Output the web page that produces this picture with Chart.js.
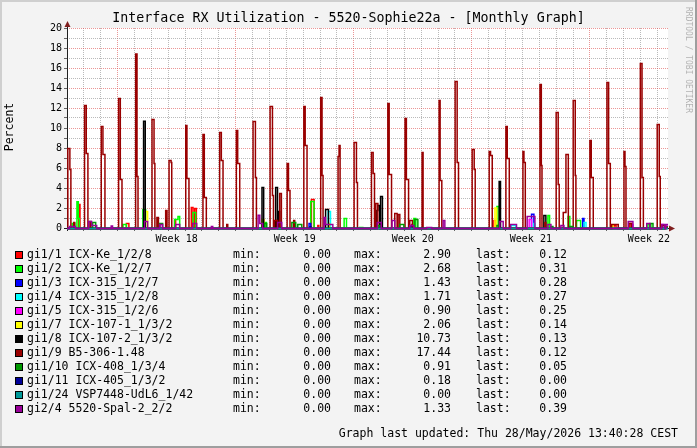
<!DOCTYPE html>
<html>
<head>
<meta charset="utf-8">
<script src="https://cdn.jsdelivr.net/npm/chart.js@4.4.0/dist/chart.umd.min.js"></script>
<style>
    html, body { margin: 0; padding: 0; background: #f3f3f3; }
</style>
</head>
<body>
<canvas id="rxChart" width="697" height="448"></canvas>
<script>
// time axis is in days from the left edge of the graph
let xMax = 35.63;
let weekDays = [6.5, 13.5, 20.5, 27.5, 34.5];
let weekLabels = ["Week 18", "Week 19", "Week 20", "Week 21", "Week 22"];
let majorDays = [3, 10, 17, 24, 31];
let yMax = 20;

let names = [
    "gi1/1 ICX-Ke_1/2/8", "gi1/2 ICX-Ke_1/2/7", "gi1/3 ICX-315_1/2/7", "gi1/4 ICX-315_1/2/8",
    "gi1/5 ICX-315_1/2/6", "gi1/7 ICX-107-1_1/3/2", "gi1/8 ICX-107-2_1/3/2", "gi1/9 B5-306-1.48",
    "gi1/10 ICX-408_1/3/4", "gi1/11 ICX-405_1/3/2", "gi1/24 VSP7448-UdL6_1/42", "gi2/4 5520-Spal-2_2/2"
];
let minVals = [0, 0, 0, 0, 0, 0, 0, 0, 0, 0, 0, 0];
let maxVals = [2.90, 2.68, 1.43, 1.71, 0.90, 2.06, 10.73, 17.44, 0.91, 0.18, 0.00, 1.33];
let lastVals = [0.12, 0.31, 0.28, 0.27, 0.25, 0.14, 0.13, 0.12, 0.05, 0.00, 0.00, 0.39];

// [day, value] : value holds from that day until the next point
let gi1_1 = [[0,0],[0.69,2.4],[0.77,0],[3.52,0.5],[3.67,0],[6.38,0.8],[6.44,0],[7.37,2.1],[7.47,0],
    [7.57,2.0],[7.67,0],[12.41,0.8],[12.47,0],[14.49,2.9],[14.65,0],[14.87,0.3],[14.93,0],[18.25,1.6],
    [18.31,0],[20.44,0.4],[20.56,0],[25.31,0.8],[25.43,0],[32.43,0.3],[32.55,0],[33.37,0.5],[33.49,0],
    [35.45,0.12],[35.63,0.12]];
let gi1_2 = [[0,0],[0.31,0.5],[0.45,0],[0.59,2.68],[0.67,1.0],[0.73,0],[3.32,0.4],[3.52,0],[4.50,1.9],
    [4.66,0],[6.38,0.9],[6.58,1.2],[6.68,0],[7.47,1.6],[7.63,0],[11.72,0.6],[11.82,0],[14.45,2.7],[14.65,0],
    [16.43,1.0],[16.57,0],[17.36,0.1],[17.54,0],[20.56,1.0],[20.68,0],[25.49,2.2],[25.62,0],[28.51,1.3],
    [28.61,0],[29.71,1.2],[29.81,0],[30.21,0.8],[30.45,0],[34.44,0.4],[34.62,0],[35.40,0.31],[35.63,0.31]];
let gi1_3 = [[0,0],[14.35,0.5],[14.45,0],[20.39,0.3],[20.44,0],[27.54,1.43],[27.68,0],[30.57,1.0],
    [30.65,0],[35.40,0.28],[35.63,0.28]];
let gi1_4 = [[0,0],[15.48,1.71],[15.62,0],[26.32,0.3],[26.61,0],[27.68,0.5],[27.74,0],[30.65,0.6],
    [30.77,0],[35.40,0.27],[35.63,0.27]];
let gi1_5 = [[0,0],[5.49,0.3],[5.55,0],[27.40,0.9],[27.54,0],[33.49,0.4],[33.55,0],[35.27,0.4],
    [35.33,0],[35.45,0.25],[35.63,0.25]];
let gi1_7 = [[0,0],[4.66,1.7],[4.78,0],[11.56,0.9],[11.68,0],[15.50,0.5],[15.56,0],[25.37,2.06],
    [25.47,0],[32.31,0.3],[32.37,0],[35.45,0.14],[35.63,0.14]];
let gi1_8 = [[0,0],[4.54,10.73],[4.64,0],[11.56,4.1],[11.66,0],[12.37,4.1],[12.48,0],[12.55,1.7],
    [12.61,0],[15.33,1.9],[15.50,0],[18.37,1.8],[18.43,2.3],[18.54,0],[18.59,3.2],[18.70,0],[25.62,4.7],
    [25.70,0],[28.27,1.3],[28.39,0],[35.45,0.13],[35.63,0.13]];
let gi1_9 = [[0,0],
    [0.05,8.0],[0.17,5.9],[0.23,0],[0.40,0.6],[0.46,0],
    [1.04,12.3],[1.14,7.5],[1.24,0],[1.36,0.7],[1.42,0],
    [2.03,10.2],[2.13,7.4],[2.25,0],
    [3.06,13.0],[3.16,4.9],[3.26,0],
    [4.07,17.44],[4.15,5.2],[4.21,0],
    [5.04,10.9],[5.16,6.5],[5.21,0],[5.33,1.1],[5.42,0],[5.85,1.8],[5.93,0],
    [6.05,6.8],[6.17,6.6],[6.21,0],
    [7.04,10.3],[7.11,5.0],[7.23,0],
    [8.06,9.4],[8.14,3.1],[8.26,0],
    [9.05,9.6],[9.15,6.8],[9.25,0],[9.47,0.4],[9.53,0],
    [10.04,9.8],[10.12,6.5],[10.24,0],
    [11.03,10.7],[11.17,5.1],[11.23,0],
    [12.04,12.2],[12.18,3.3],[12.24,0],[12.31,0.8],[12.49,0],[12.61,3.5],[12.71,0],
    [13.05,6.5],[13.13,3.8],[13.22,0],[13.44,0.8],[13.50,0],
    [14.04,12.2],[14.12,8.3],[14.23,0],
    [15.04,13.1],[15.12,5.3],[15.18,0],
    [16.07,7.2],[16.13,8.3],[16.19,0],
    [17.02,8.6],[17.16,4.6],[17.22,0],
    [18.05,7.6],[18.15,5.5],[18.23,0],[18.31,2.5],[18.43,0],
    [19.02,12.5],[19.10,5.4],[19.24,0],[19.43,1.5],[19.57,0],[19.63,1.4],[19.73,0],
    [20.04,11.0],[20.12,4.9],[20.25,0],[20.32,0.8],[20.48,0],
    [21.05,7.6],[21.11,0],
    [22.06,12.8],[22.12,4.8],[22.22,0],
    [23.01,14.7],[23.13,6.6],[23.21,0],
    [24.02,7.9],[24.14,5.9],[24.20,0],
    [25.03,7.7],[25.11,7.3],[25.21,0],
    [26.02,10.2],[26.10,7.0],[26.22,0],
    [27.03,7.7],[27.09,6.6],[27.17,0],
    [28.04,14.4],[28.12,6.3],[28.16,0],[28.33,0.6],[28.39,0],
    [29.00,11.6],[29.12,4.4],[29.18,0],[29.42,1.6],[29.58,7.4],[29.72,0],
    [30.01,12.8],[30.13,5.3],[30.17,0],
    [31.00,8.8],[31.08,5.1],[31.20,0],
    [32.01,14.6],[32.11,6.5],[32.21,0],[32.29,0.4],[32.68,0],
    [33.02,7.7],[33.08,6.2],[33.14,0],[33.30,0.5],[33.45,0],
    [33.99,16.5],[34.09,5.1],[34.17,0],
    [34.99,10.4],[35.11,5.2],[35.17,0],[35.27,0.3],[35.45,0],
    [35.52,0.12],[35.63,0.12]];
let gi1_10 = [[0,0],[1.52,0.6],[1.70,0],[5.49,0.5],[5.67,0],[11.72,0.5],[11.84,0],[13.33,0.6],[13.56,0],
    [13.68,0.4],[13.92,0],[18.43,0.3],[18.55,0],[19.73,0.4],[19.97,0],[20.62,0.91],[20.80,0],[25.49,0.3],
    [25.62,0],[28.69,0.2],[28.81,0],[29.81,0.2],[29.99,0],[34.56,0.5],[34.74,0],[35.50,0.05],[35.63,0.05]];
let gi1_11 = [[0,0],[14.40,0.18],[14.46,0],[35.63,0]];
let gi1_24 = [[0,0],[35.63,0]];
let gi2_4 = [[0,0],[0.15,0.2],[0.50,0],[1.28,0.7],[1.46,0.3],[1.76,0],[2.62,0.25],[2.70,0],[4.60,0.7],
    [4.78,0],[5.49,0.4],[5.67,0],[6.44,0.4],[6.68,0],[7.45,0.5],[7.69,0],[8.56,0.2],[8.64,0],[11.33,1.33],
    [11.43,0.5],[11.60,0],[12.49,0.6],[12.73,0],[15.24,1.1],[15.32,0.4],[15.76,0],[18.39,0.6],[18.63,0],
    [19.27,0.8],[19.43,0],[20.32,0.3],[20.56,0],[21.33,0.1],[21.62,0],[22.30,0.8],[22.40,0],[25.66,0.7],
    [25.86,0],[26.30,0.4],[26.65,0],[27.28,1.2],[27.74,0],[28.51,0.4],[28.69,0],[29.28,0.3],[29.46,0],
    [33.27,0.7],[33.55,0],[34.37,0.5],[34.56,0],[35.26,0.4],[35.45,0],[35.50,0.39],[35.63,0.39]];

let series = [gi1_1, gi1_2, gi1_3, gi1_4, gi1_5, gi1_7, gi1_8, gi1_9, gi1_10, gi1_11, gi1_24, gi2_4];
let colors = ["#FF0000", "#00FF00", "#0000FF", "#00FFFF", "#FF00FF", "#FFFF00",
    "#000000", "#990000", "#009900", "#000099", "#009999", "#990099"];

let MONO = '"DejaVu Sans Mono", monospace';
let MINOR = "rgba(140,140,140,0.6)";
let MAJOR = "rgba(222,80,80,0.6)";

function gridX(c) {
    let v = c.tick ? c.tick.value : 0;
    if (weekDays.includes(v)) return "rgba(0,0,0,0)";
    return majorDays.includes(v) ? MAJOR : MINOR;
}

function gridY(c) {
    let v = c.tick ? c.tick.value : 0;
    return v % 2 === 0 ? MAJOR : MINOR;
}

// backgrounds, axes, arrows and all the rrdtool style text
let rrdLook = {
    id: "rrdLook",
    beforeDraw(chart) {
        let ctx = chart.ctx;
        let a = chart.chartArea;
        ctx.save();
        ctx.fillStyle = "#F3F3F3";
        ctx.fillRect(0, 0, chart.width, chart.height);
        ctx.fillStyle = "#FFFFFF";
        ctx.fillRect(a.left, a.top, a.right - a.left, a.bottom - a.top);
        ctx.restore();
    },
    beforeDatasetsDraw(chart) {
        let ctx = chart.ctx;
        let a = chart.chartArea;
        ctx.save();
        ctx.strokeStyle = "#1F1F1F";
        ctx.lineWidth = 1;
        ctx.beginPath();
        ctx.moveTo(a.left + 0.5, a.bottom + 3);
        ctx.lineTo(a.left + 0.5, a.top - 5);
        ctx.moveTo(a.left - 3, a.bottom + 0.5);
        ctx.lineTo(a.right + 4, a.bottom + 0.5);
        ctx.stroke();
        ctx.restore();
        // half pixel shift so the flat parts of the steps land on whole rows
        ctx.save();
        ctx.translate(0, 0.5);
    },
    afterDatasetsDraw(chart) {
        chart.ctx.restore();
    },
    afterDraw(chart) {
        let ctx = chart.ctx;
        let a = chart.chartArea;
        ctx.save();

        // arrows
        ctx.fillStyle = "#801F1F";
        ctx.beginPath();
        ctx.moveTo(a.left - 2.5, a.top - 1);
        ctx.lineTo(a.left + 3.5, a.top - 1);
        ctx.lineTo(a.left + 0.5, a.top - 7);
        ctx.closePath();
        ctx.fill();
        ctx.beginPath();
        ctx.moveTo(a.right + 1, a.bottom - 2.5);
        ctx.lineTo(a.right + 1, a.bottom + 3.5);
        ctx.lineTo(a.right + 7, a.bottom + 0.5);
        ctx.closePath();
        ctx.fill();

        // title
        ctx.fillStyle = "#000";
        ctx.textBaseline = "middle";
        ctx.textAlign = "center";
        ctx.font = "13.3px " + MONO;
        ctx.fillText("Interface RX Utilization - 5520-Sophie22a - [Monthly Graph]", 348.5, 19);

        // unit label
        ctx.save();
        ctx.translate(10, 127);
        ctx.rotate(-Math.PI / 2);
        ctx.font = "11.5px " + MONO;
        ctx.fillText("Percent", 0, 0);
        ctx.restore();

        // watermark
        ctx.save();
        ctx.translate(688, 60);
        ctx.rotate(Math.PI / 2);
        ctx.font = "8px " + MONO;
        ctx.fillStyle = "rgba(0,0,0,0.28)";
        ctx.fillText("RRDTOOL / TOBI OETIKER", 0, 0);
        ctx.restore();

        // legend table
        ctx.font = "11.5px " + MONO;
        names.forEach((n, i) => {
            let y = 255 + i * 14;
            ctx.fillStyle = colors[i];
            ctx.fillRect(15, y - 4, 8, 8);
            ctx.strokeStyle = "#000";
            ctx.lineWidth = 1;
            ctx.strokeRect(15.5, y - 3.5, 7, 7);

            ctx.fillStyle = "#000";
            ctx.textAlign = "left";
            ctx.fillText(n, 27, y);
            ctx.fillText("min:", 233, y);
            ctx.fillText("max:", 354, y);
            ctx.fillText("last:", 476, y);
            ctx.textAlign = "right";
            ctx.fillText(minVals[i].toFixed(2), 331, y);
            ctx.fillText(maxVals[i].toFixed(2), 451, y);
            ctx.fillText(lastVals[i].toFixed(2), 567, y);
        });

        ctx.textAlign = "right";
        ctx.fillText("Graph last updated: Thu 28/May/2026 13:40:28 CEST", 678, 434);

        // 3d frame
        ctx.fillStyle = "#CFCFCF";
        ctx.fillRect(0, 0, chart.width, 2);
        ctx.fillRect(0, 0, 2, chart.height);
        ctx.fillStyle = "#9E9E9E";
        ctx.fillRect(0, chart.height - 2, chart.width, 2);
        ctx.fillRect(chart.width - 2, 0, 2, chart.height);
        ctx.restore();
    }
};

let datasets = series.map((s, i) => ({
    label: names[i],
    data: s.map(p => ({ x: p[0], y: p[1] })),
    borderColor: colors[i],
    borderWidth: 1.5,
    pointRadius: 0,
    stepped: true,
    fill: false,
    clip: false,
    order: series.length - i
}));

new Chart(document.getElementById("rxChart"), {
    type: "line",
    data: { datasets: datasets },
    options: {
        responsive: false,
        devicePixelRatio: 1,
        animation: false,
        events: [],
        layout: { padding: { left: 0, top: 28, right: 29, bottom: 200 } },
        plugins: { legend: { display: false }, tooltip: { enabled: false } },
        scales: {
            x: {
                type: "linear",
                min: 0,
                max: xMax,
                afterBuildTicks: (s) => {
                    let vals = [];
                    for (let d = 0; d <= Math.floor(xMax); d++) vals.push(d);
                    vals = vals.concat(weekDays).sort((a, b) => a - b);
                    s.ticks = vals.map(v => ({ value: v }));
                },
                afterFit: (s) => { s.height = 20; },
                ticks: {
                    autoSkip: false,
                    maxRotation: 0,
                    minRotation: 0,
                    padding: 2,
                    color: "#000",
                    font: { family: MONO, size: 10 },
                    callback: (v) => {
                        let i = weekDays.indexOf(v);
                        return i >= 0 ? weekLabels[i] : "";
                    }
                },
                grid: {
                    color: gridX,
                    lineWidth: 1,
                    tickLength: 3,
                    tickColor: (c) => (c.tick && weekDays.includes(c.tick.value)) ? "rgba(0,0,0,0)" : "#666"
                },
                border: { display: false, dash: [1, 1] }
            },
            y: {
                min: 0,
                max: yMax,
                afterBuildTicks: (s) => {
                    let vals = [];
                    for (let v = 0; v <= yMax; v++) vals.push({ value: v });
                    s.ticks = vals;
                },
                afterFit: (s) => { s.width = 67; },
                ticks: {
                    autoSkip: false,
                    padding: 2,
                    color: "#000",
                    font: { family: MONO, size: 10 },
                    callback: (v) => v % 2 === 0 ? String(v) : ""
                },
                grid: {
                    color: gridY,
                    lineWidth: 1,
                    tickLength: 3,
                    tickColor: "#666"
                },
                border: { display: false, dash: [1, 1] }
            }
        }
    },
    plugins: [rrdLook]
});
</script>
</body>
</html>
